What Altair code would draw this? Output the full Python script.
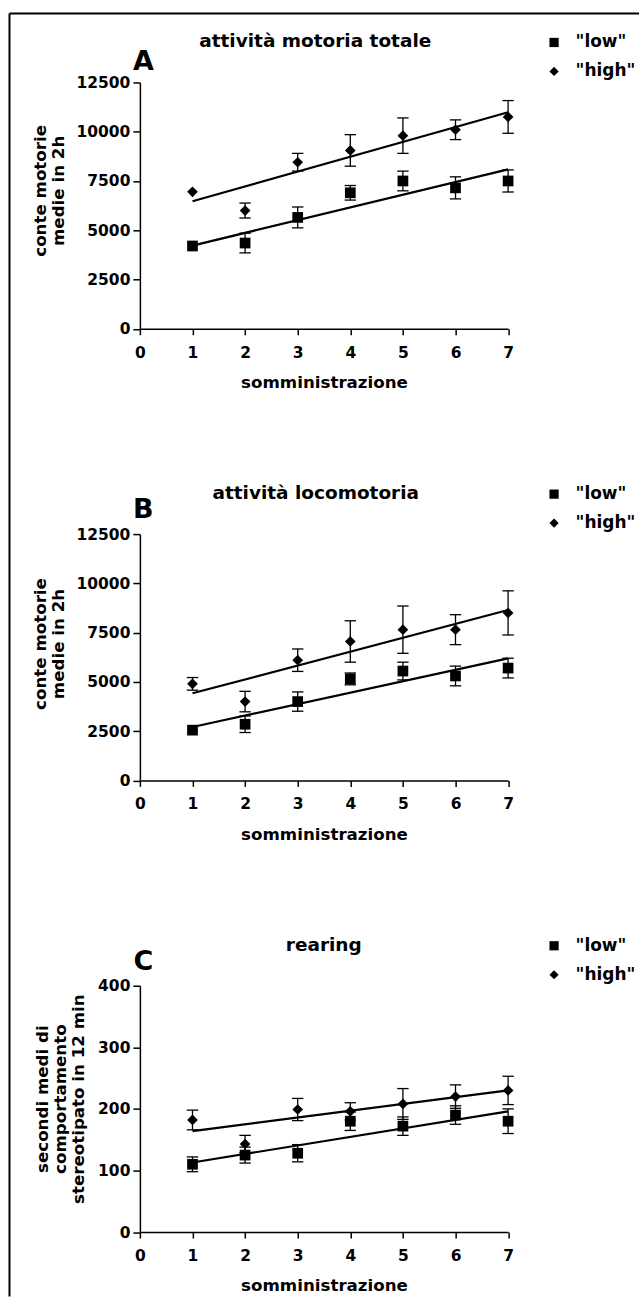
import altair as alt
import pandas as pd

FONT = "DejaVu Sans"
W, H = 368.5, 246.5

sessions = [1, 2, 3, 4, 5, 6, 7]
group_names = ["low", "high"]
x_ticks = [0, 1, 2, 3, 4, 5, 6, 7]
fit_x = [1, 7]

panel_letters = ["A", "B", "C"]
panel_titles = ["attività motoria totale", "attività locomotoria", "rearing"]
y_titles = [
    ["conte motorie", "medie in 2h"],
    ["conte motorie", "medie in 2h"],
    ["secondi medi di", "comportamento", "stereotipato in 12 min"],
]
x_title = "somministrazione"
y_ticks_counts = [0, 2500, 5000, 7500, 10000, 12500]
y_ticks_rearing = [0, 100, 200, 300, 400]

# Panel A - attività motoria totale
A_low_mean = [4200, 4350, 5650, 6900, 7500, 7150, 7500]
A_low_sem = [0, 500, 530, 370, 500, 560, 560]
A_high_mean = [6950, 6000, 8450, 9050, 9800, 10100, 10750]
A_high_sem = [0, 380, 450, 800, 900, 500, 830]
A_fit_low = [4220, 8090]
A_fit_high = [6470, 10990]

# Panel B - attività locomotoria
B_low_mean = [2550, 2850, 4000, 5150, 5550, 5300, 5700]
B_low_sem = [0, 420, 490, 300, 450, 500, 500]
B_high_mean = [4900, 4000, 6100, 7050, 7650, 7650, 8500]
B_high_sem = [320, 520, 570, 1050, 1200, 760, 1120]
B_fit_low = [2710, 6190]
B_fit_high = [4420, 8650]

# Panel C - rearing
C_low_mean = [110, 125, 128, 180, 172, 190, 180]
C_low_sem = [12, 13, 14, 15, 15, 15, 20]
C_high_mean = [182, 143, 199, 196, 208, 220, 230]
C_high_sem = [16, 14, 18, 14, 25, 19, 23]
C_fit_low = [113, 196]
C_fit_high = [164, 230]


def build_panel(idx, ymax, yticks, low_mean, low_sem, high_mean, high_sem,
                fit_low, fit_high, ytitle_x, ytitle_y, title_x, letter_y, frame=False):
    rows = []
    for g, means, sems in (("low", low_mean, low_sem), ("high", high_mean, high_sem)):
        for s, m, e in zip(sessions, means, sems):
            rows.append({"session": s, "group": g, "mean": m, "sem": e,
                         "lo": m - e, "hi": m + e})
    df = pd.DataFrame(rows)
    edf = df[df["sem"] > 0]
    fit_rows = []
    for g, vals in (("low", fit_low), ("high", fit_high)):
        for xv, yv in zip(fit_x, vals):
            fit_rows.append({"session": xv, "group": g, "mean": yv})
    fdf = pd.DataFrame(fit_rows)

    xaxis = alt.Axis(
        values=x_ticks, title=x_title, grid=False, format="d",
        domainColor="black", domainWidth=1.5, tickColor="black", tickWidth=1.5, tickSize=6,
        labelFont=FONT, labelFontWeight="bold", labelFontSize=15.5, labelColor="black",
        labelPadding=10.5, labelBaseline="top", labelFlush=False,
        titleFont=FONT, titleFontWeight="bold", titleFontSize=16.7, titleColor="black",
        titleY=59, titleBaseline="alphabetic",
    )
    yaxis = alt.Axis(
        values=yticks, title=y_titles[idx], grid=False, format="d",
        domainColor="black", domainWidth=1.5, tickColor="black", tickWidth=1.5, tickSize=7,
        labelFont=FONT, labelFontWeight="bold", labelFontSize=15.5, labelColor="black",
        labelPadding=3, labelFlush=False,
        titleFont=FONT, titleFontWeight="bold", titleFontSize=16.7, titleColor="black",
        titleLineHeight=18, titleX=ytitle_x, titleY=ytitle_y, titleAngle=270,
        titleAlign="center", titleBaseline="bottom",
    )
    xscale = alt.Scale(domain=[0, 7], nice=False, zero=False)
    yscale = alt.Scale(domain=[0, ymax], nice=False)

    def X(field):
        return alt.X(f"{field}:Q", scale=xscale, axis=xaxis)

    def Y(field):
        return alt.Y(f"{field}:Q", scale=yscale, axis=yaxis)

    ebase = alt.Chart(edf)
    err = ebase.mark_rule(color="black", strokeWidth=1.3).encode(
        x=X("session"), y=Y("lo"), y2="hi:Q", detail="group:N")
    cap_hi = ebase.mark_rule(color="black", strokeWidth=1.3, xOffset=-5.7, x2Offset=5.7).encode(
        x=X("session"), x2="session:Q", y=Y("hi"), detail="group:N")
    cap_lo = ebase.mark_rule(color="black", strokeWidth=1.3, xOffset=-5.7, x2Offset=5.7).encode(
        x=X("session"), x2="session:Q", y=Y("lo"), detail="group:N")
    fit = alt.Chart(fdf).mark_line(color="black", strokeWidth=2.2).encode(
        x=X("session"), y=Y("mean"), detail="group:N")
    pts = alt.Chart(df).mark_point(filled=True, color="black", opacity=1, size=115).encode(
        x=X("session"), y=Y("mean"),
        shape=alt.Shape(
            "group:N",
            scale=alt.Scale(domain=group_names, range=["square", "diamond"]),
            legend=alt.Legend(
                title=None, orient="none", legendX=406, legendY=-48.5, padding=0,
                labelExpr="'\"' + datum.label + '\"'",
                labelFont=FONT, labelFontWeight="bold", labelFontSize=17, labelColor="black",
                labelOffset=13, rowPadding=11, symbolSize=85, labelLimit=70,
                symbolFillColor="black", symbolStrokeColor="black", symbolStrokeWidth=0,
                symbolOpacity=1,
            ),
        ),
    )
    ttl = alt.Chart(pd.DataFrame({"t": [panel_titles[idx]]})).mark_text(
        font=FONT, fontWeight="bold", fontSize=18.5, color="black",
        align="center", baseline="alphabetic").encode(
        text="t:N", x=alt.value(title_x), y=alt.value(-35))
    let = alt.Chart(pd.DataFrame({"t": [panel_letters[idx]]})).mark_text(
        font=FONT, fontWeight="bold", fontSize=27, color="black",
        align="center", baseline="alphabetic").encode(
        text="t:N", x=alt.value(3.5), y=alt.value(letter_y))

    layers = []
    if frame:
        fr = pd.DataFrame({"k": [0]})
        top_rule = alt.Chart(fr).mark_rule(color="black", strokeWidth=2).encode(
            x=alt.value(-130.5), x2=alt.value(499.5), y=alt.value(-69))
        left_rule = alt.Chart(fr).mark_rule(color="black", strokeWidth=2).encode(
            x=alt.value(-130.5), y=alt.value(-69), y2=alt.value(1215))
        layers += [top_rule, left_rule]
    layers += [err, cap_hi, cap_lo, fit, pts, ttl, let]
    return alt.layer(*layers).properties(width=W, height=H)


pA = build_panel(0, 12500, y_ticks_counts, A_low_mean, A_low_sem, A_high_mean, A_high_sem,
                 A_fit_low, A_fit_high, -90, 108, 175.5, -12, frame=True)
pB = build_panel(1, 12500, y_ticks_counts, B_low_mean, B_low_sem, B_high_mean, B_high_sem,
                 B_fit_low, B_fit_high, -90, 109.5, 176, -16.5)
pC = build_panel(2, 400, y_ticks_rearing, C_low_mean, C_low_sem, C_high_mean, C_high_sem,
                 C_fit_low, C_fit_high, -88, 113, 184, -16)

chart = alt.vconcat(pA, pB, pC, spacing=205, bounds="flush").resolve_scale(
    x="independent", y="independent", shape="independent"
).resolve_legend(shape="independent").properties(
    padding={"left": 8, "top": 12, "right": 0, "bottom": 0}
).configure_view(stroke=None)

chart.save("out.html", embed_options={"renderer": "svg", "actions": False})
